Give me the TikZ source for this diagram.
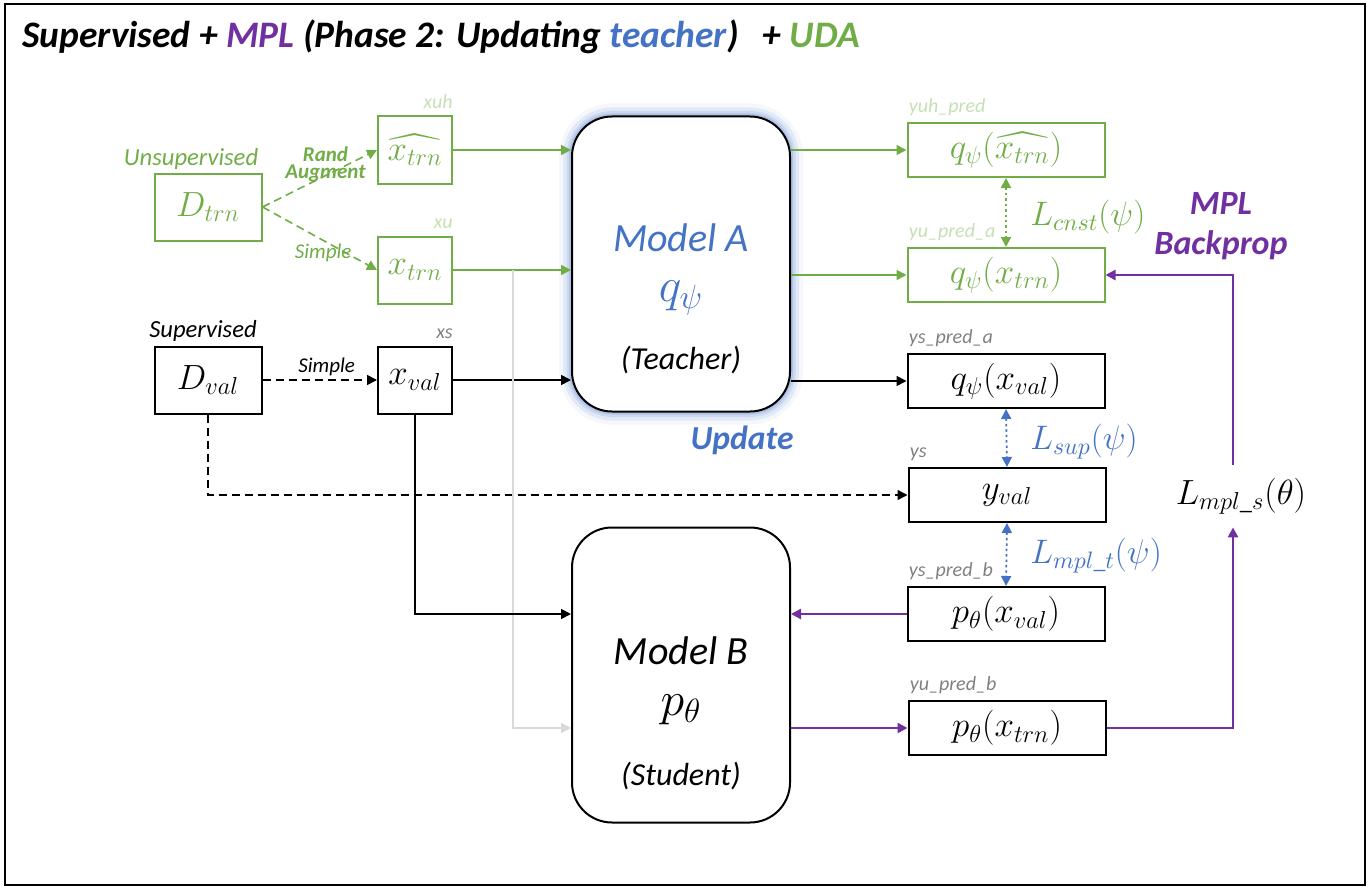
\RequirePackage{fix-cm}
\documentclass[tikz,border=0pt]{standalone}
\usepackage{amsmath,amssymb}
\usepackage{fontspec}
\setmainfont{Carlito}
\usepackage{xcolor}
\usetikzlibrary{arrows.meta, positioning, calc}

\definecolor{udagreen}{HTML}{70AD47}
\definecolor{taglgreen}{HTML}{C5E0B4}
\definecolor{teachblue}{HTML}{4472C4}
\definecolor{mplpurple}{HTML}{7030A0}
\definecolor{taggray}{HTML}{808080}
\definecolor{linegray}{HTML}{D9D9D9}

\begin{document}
\begin{tikzpicture}[
    x=0.5pt, y=-0.5pt,
    every node/.style={inner sep=0pt},
    box/.style={draw, line width=1pt, minimum width=37pt, minimum height=33.5pt,
                font=\fontsize{17.5}{19}\selectfont},
    dbox/.style={box, minimum width=53.5pt},
    gbox/.style={draw=udagreen, text=udagreen},
    outbox/.style={draw, line width=1pt, minimum width=98.5pt, minimum height=27pt,
                   font=\fontsize{17.5}{19}\selectfont},
    model/.style={draw, line width=1pt, rounded corners=20pt, fill=white,
                  minimum width=109pt, minimum height=147.5pt},
    glow/.style={preaction={draw=teachblue, opacity=0.06, line width=13pt},
                 preaction={draw=teachblue, opacity=0.1, line width=9pt},
                 preaction={draw=teachblue, opacity=0.15, line width=5.5pt},
                 preaction={draw=teachblue, opacity=0.2, line width=3pt}},
    tag/.style={font=\fontsize{10}{11}\selectfont\itshape, text=taggray},
    gtag/.style={tag, text=taglgreen},
    set/.style={font=\fontsize{12.3}{14}\selectfont\itshape},
    aug/.style={font=\fontsize{10.5}{8.5}\selectfont\itshape},
    loss/.style={font=\fontsize{17}{19}\selectfont, anchor=west},
    arrow/.style={-{Triangle[length=5pt, width=5pt]}, line width=0.8pt},
    dashline/.style={dash pattern=on 4pt off 2.5pt},
    dual/.style={{Triangle[length=5pt, width=5pt]}-{Triangle[length=5pt, width=5pt]},
                 line width=0.9pt, dash pattern=on 1.2pt off 1.5pt},
    mpl/.style={arrow, draw=mplpurple, line width=1.3pt},
]
    \useasboundingbox (0,0) rectangle (1370,888);
    \draw[line width=1pt] (5,4) rectangle (1365,885);

    % title
    \node[anchor=west, font=\fontsize{18.7}{20}\selectfont\bfseries\itshape] (title) at (22,37)
        {Supervised + \textcolor{mplpurple}{MPL} (Phase 2: Updating \textcolor{teachblue}{teacher})\hspace{12pt}+ \textcolor{udagreen}{UDA}};

    % inputs
    \node[dbox, gbox] (dtrn) at (208,207) {$D_{trn}$};
    \node[set, text=udagreen] at (191,159) {Unsupervised};
    \node[box, gbox] (xuh) at (415,150) {$\widehat{x_{trn}}$};
    \node[box, gbox] (xu) at (415,270) {$x_{trn}$};
    \node[dbox] (dval) at (208,380) {$D_{val}$};
    \node[set] at (203,331) {Supervised};
    \node[box] (xs) at (415,380) {$x_{val}$};
    \node[gtag, above left=3pt and 0pt of xuh.north east] {xuh};
    \node[gtag, above left=3pt and 0pt of xu.north east] {xu};
    \node[tag, above left=3pt and 0pt of xs.north east] {xs};

    % models
    \node[model, glow] (modelA) at (681,264) {};
    \node[font=\fontsize{20}{24}\selectfont\itshape, text=teachblue] (nameA) at (681,238) {Model A};
    \node[font=\fontsize{24}{28}\selectfont, text=teachblue] (fnA) at (681,298) {$q_\psi$};
    \node[font=\fontsize{16}{18}\selectfont\itshape] (roleA) at (681,360) {(Teacher)};
    \node[font=\fontsize{16.8}{18}\selectfont\bfseries\itshape, text=teachblue] (update) at (742,440) {Update};

    \node[model] (modelB) at (681,675) {};
    \node[font=\fontsize{20}{24}\selectfont\itshape] (nameB) at (681,651) {Model B};
    \node[font=\fontsize{24}{28}\selectfont] (fnB) at (681,710) {$p_\theta$};
    \node[font=\fontsize{16}{18}\selectfont\itshape] (roleB) at (681,776) {(Student)};

    % outputs
    \node[outbox, gbox] (yuh) at (1006,150) {$q_\psi(\widehat{x_{trn}})$};
    \node[outbox, gbox] (yua) at (1006,275) {$q_\psi(x_{trn})$};
    \node[outbox] (ysa) at (1006,381) {$q_\psi(x_{val})$};
    \node[outbox] (ys) at (1007,495) {$y_{val}$};
    \node[outbox] (ysb) at (1006,614) {$p_\theta(x_{val})$};
    \node[outbox] (yub) at (1007,728) {$p_\theta(x_{trn})$};
    \node[gtag, above right=3pt and 1pt of yuh.north west] {yuh\_pred};
    \node[gtag, above right=3pt and 1pt of yua.north west] {yu\_pred\_a};
    \node[tag, above right=3pt and 1pt of ysa.north west] {ys\_pred\_a};
    \node[tag, above right=3pt and 1pt of ys.north west] {ys};
    \node[tag, above right=3pt and 1pt of ysb.north west] {ys\_pred\_b};
    \node[tag, above right=3pt and 1pt of yub.north west] {yu\_pred\_b};

    % losses
    \node[loss, text=udagreen] (lcnst) at (1030,217) {$L_{cnst}(\psi)$};
    \node[loss, text=teachblue] (lsup) at (1030,442) {$L_{sup}(\psi)$};
    \node[loss, text=teachblue] (lmplt) at (1030,556) {$L_{mpl\_t}(\psi)$};
    \node[font=\fontsize{17.5}{19}\selectfont, minimum height=31pt] (lmpls) at (1241,496) {$L_{mpl\_s}(\theta)$};
    \node[align=center, font=\fontsize{17}{20}\selectfont\bfseries\itshape, text=mplpurple] (backprop) at (1221,226) {MPL\\Backprop};
    \coordinate (mplbus) at (1233,496);

    % connectors
    \draw[arrow, udagreen, dashline] (dtrn.east) -- node[align=center, pos=0.55, yshift=5.5pt, font=\fontsize{10.5}{8.5}\selectfont\bfseries\itshape] {Rand\\Augment} (xuh.west);
    \draw[arrow, udagreen, dashline] (dtrn.east) -- node[aug, pos=0.53, yshift=-6.5pt] {Simple} (xu.west);
    \draw[arrow, dashline] (dval.east) -- node[aug, pos=0.56, above=1.5pt] {Simple} (xs.west);
    \draw[arrow, dashline] (dval.south) |- (ys.west);

    \draw[arrow, udagreen] (xuh.east) -- (xuh.east -| modelA.west);
    \draw[arrow, udagreen] (xu.east) -- (xu.east -| modelA.west);
    \draw[arrow] (xs.east) -- (xs.east -| modelA.west);
    \coordinate (split) at (513,270);
    \draw[arrow, linegray] (split) |- (modelB.west |- yub.west);
    \draw[arrow] (xs.south) |- (modelB.west |- ysb.west);

    \draw[arrow, udagreen] (modelA.east |- yuh.west) -- (yuh.west);
    \draw[arrow, udagreen] (modelA.east |- yua.west) -- (yua.west);
    \draw[arrow] (modelA.east |- ysa.west) -- (ysa.west);

    \draw[dual, udagreen] (yuh.south) -- (yua.north);
    \draw[dual, teachblue] (ysa.south) -- (ys.north);
    \draw[dual, teachblue] (ys.south) -- (ysb.north);

    \draw[mpl] (ysb.west) -- (modelB.east |- ysb.west);
    \draw[mpl] (modelB.east |- yub.west) -- (yub.west);
    \draw[mpl] (yub.east) -| (mplbus |- lmpls.south);
    \draw[mpl] (mplbus |- lmpls.north) |- (yua.east);
\end{tikzpicture}
\end{document}
